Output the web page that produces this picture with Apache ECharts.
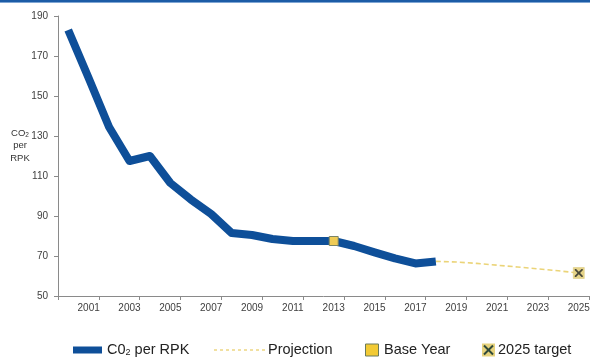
<!DOCTYPE html>
<html>
<head>
<meta charset="utf-8">
<script src="https://cdn.jsdelivr.net/npm/echarts@6/dist/echarts.min.js"></script>
<style>
  html, body { margin: 0; padding: 0; background: #fff; }
  #chart { width: 590px; height: 357px; }
</style>
</head>
<body>
<div id="chart"></div>
<script>
// Years on the category axis
const years = ['2000','2001','2002','2003','2004','2005','2006','2007','2008','2009','2010','2011','2012',
  '2013','2014','2015','2016','2017','2018','2019','2020','2021','2022','2023','2024','2025'];

// Actual CO2 per RPK, 2000-2018
const co2PerRpk = [183, 159, 134.5, 117.5, 120, 106.5, 98.3, 91, 81.5, 80.5, 78.5, 77.5, 77.5,
  77.5, 75, 71.8, 68.8, 66.3, 67.3];

// Projection, 2018-2025
const projectionYears = ['2018','2019','2020','2021','2022','2023','2024','2025'];
const projection = [67.3, 67, 66.3, 65.4, 64.5, 63.6, 62.6, 61.5];

// Highlighted points
const baseYear = { year: '2013', value: 77.5 };
const target = { year: '2025', value: 61.5 };

// Y tick range
const yMin = 50, yMax = 190, yStep = 20;

const actualData = years.map((y, i) => i < co2PerRpk.length ? co2PerRpk[i] : null);
const projData = years.map(y => {
  const k = projectionYears.indexOf(y);
  return k >= 0 ? projection[k] : null;
});

const xPath = 'path://M0,0 L1.6,0 L5,3.4 L8.4,0 L10,0 L10,1.6 L6.6,5 L10,8.4 L10,10 L8.4,10 L5,6.6 L1.6,10 L0,10 L0,8.4 L3.4,5 L0,1.6 Z';

const chart = echarts.init(document.getElementById('chart'), null, { renderer: 'canvas' });
const tickFont = { fontFamily: 'Liberation Sans', fontSize: 10, color: '#404040' };
const legendFont = { fontFamily: 'Liberation Sans', fontSize: 14.5, fill: '#222' };

chart.setOption({
  animation: false,
  backgroundColor: '#fff',
  grid: { left: 58, top: 16, right: 1, bottom: 61, containLabel: false, outerBoundsMode: 'none' },
  xAxis: {
    type: 'category',
    data: years,
    boundaryGap: true,
    axisLine: { lineStyle: { color: '#8a8a8a', width: 1 } },
    axisTick: { show: true, length: 4, interval: (i) => i % 2 === 0, lineStyle: { color: '#8a8a8a' } },
    axisLabel: Object.assign({ interval: (i) => i % 2 === 1, margin: 7 }, tickFont),
    splitLine: { show: false }
  },
  yAxis: {
    type: 'value',
    min: yMin, max: yMax, interval: yStep,
    axisLine: { show: true, lineStyle: { color: '#8a8a8a', width: 1 } },
    axisTick: { show: true, length: 4, lineStyle: { color: '#8a8a8a' } },
    axisLabel: Object.assign({ margin: 10 }, tickFont),
    splitLine: { show: false }
  },
  series: [
    {
      name: 'Projection',
      type: 'line',
      data: projData,
      showSymbol: false,
      symbol: 'none',
      z: 2,
      lineStyle: { color: '#EBD478', width: 1.6, type: [5, 3] }
    },
    {
      name: 'C0₂ per RPK',
      type: 'line',
      data: actualData,
      showSymbol: false,
      symbol: 'none',
      z: 3,
      lineStyle: { color: '#0E4F99', width: 8, cap: 'butt', join: 'round' }
    },
    {
      name: 'Base Year',
      type: 'scatter',
      data: [[baseYear.year, baseYear.value]],
      symbol: 'rect',
      symbolSize: 9,
      z: 4,
      itemStyle: { color: '#EFCB55', borderColor: '#7A8466', borderWidth: 1, opacity: 1 }
    },
    {
      name: '2025 target',
      type: 'scatter',
      data: [[target.year, target.value]],
      symbol: 'rect',
      symbolSize: 11,
      z: 4,
      itemStyle: { color: '#E6D489', borderColor: '#D8C676', borderWidth: 0.5, opacity: 1 }
    },
    {
      name: '2025 target mark',
      type: 'scatter',
      data: [[target.year, target.value]],
      symbol: xPath,
      symbolSize: 8,
      z: 5,
      itemStyle: { color: '#4a4a3a', opacity: 1 }
    }
  ],
  graphic: [
    // top band
    { type: 'rect', shape: { x: 0, y: 0, width: 590, height: 2 }, style: { fill: '#1C5CA6' } },
    { type: 'rect', shape: { x: 0, y: 2, width: 590, height: 1 }, style: { fill: '#7FA6D4' } },
    // y axis title
    {
      type: 'text', x: 20, y: 127,
      style: {
        text: '{m|CO}{s|2}\n{m|per}\n{m|RPK}',
        align: 'center',
        lineHeight: 12.5,
        fill: '#333',
        rich: {
          m: { fontFamily: 'Liberation Sans', fontSize: 9.5, fill: '#333', lineHeight: 12.5 },
          s: { fontFamily: 'Liberation Sans', fontSize: 6.5, fill: '#333', padding: [4, 0, 0, 0], lineHeight: 12.5 }
        }
      }
    },
    // legend
    { type: 'rect', shape: { x: 73, y: 346.5, width: 29, height: 7 }, style: { fill: '#0E4F99' } },
    {
      type: 'text', x: 107, y: 350,
      style: {
        text: '{m|C0}{s|2}{m| per RPK}',
        verticalAlign: 'middle',
        rich: {
          m: Object.assign({}, legendFont),
          s: { fontFamily: 'Liberation Sans', fontSize: 9, fill: '#222', padding: [6, 0, 0, 0] }
        }
      }
    },
    { type: 'line', shape: { x1: 214, y1: 350, x2: 265, y2: 350 }, style: { stroke: '#EED98A', lineWidth: 1.6, lineDash: [3, 3] } },
    { type: 'text', x: 268, y: 350, style: Object.assign({ text: 'Projection', verticalAlign: 'middle' }, legendFont) },
    { type: 'rect', shape: { x: 365.5, y: 344, width: 13, height: 12 }, style: { fill: '#F2CA34', stroke: '#6B7B5B', lineWidth: 1 } },
    { type: 'text', x: 384, y: 350, style: Object.assign({ text: 'Base Year', verticalAlign: 'middle' }, legendFont) },
    { type: 'rect', shape: { x: 482, y: 343.5, width: 13, height: 13 }, style: { fill: '#E6D27C' } },
    { type: 'line', shape: { x1: 484, y1: 345.5, x2: 493, y2: 354.5 }, style: { stroke: '#2f4a3a', lineWidth: 2 } },
    { type: 'line', shape: { x1: 493, y1: 345.5, x2: 484, y2: 354.5 }, style: { stroke: '#2f4a3a', lineWidth: 2 } },
    { type: 'text', x: 498, y: 350, style: Object.assign({ text: '2025 target', verticalAlign: 'middle' }, legendFont) }
  ]
});
</script>
</body>
</html>
